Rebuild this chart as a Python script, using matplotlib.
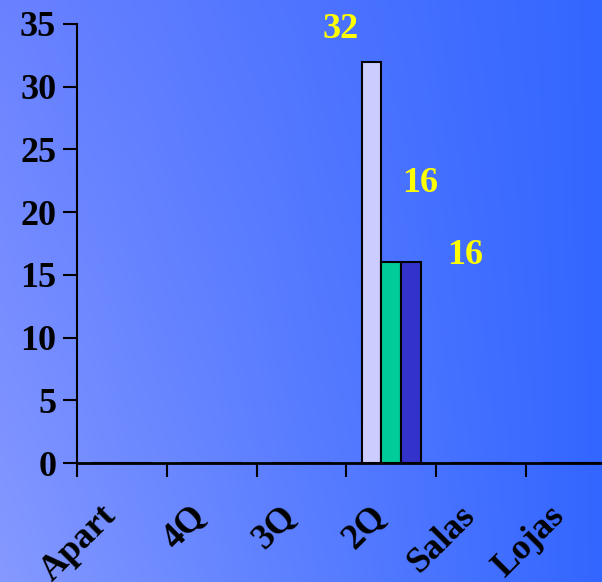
import numpy as np
import matplotlib
matplotlib.use('Agg')
import matplotlib.pyplot as plt
from matplotlib.colors import to_rgb

# data
categories = ['Apart', '4Q', '3Q', '2Q', 'Salas', 'Lojas']
series_a = [0, 0, 0, 32, 0, 0]
series_b = [0, 0, 0, 16, 0, 0]
series_c = [0, 0, 0, 16, 0, 0]
y_ticks = [0, 5, 10, 15, 20, 25, 30, 35]

bar_colors = ['#CCCCFF', '#00CC99', '#3333CC']
# label offsets (points) from the bar tops, as in the original
label_offsets = [(-22, 23), (21, 57), (39, 5)]

W, H = 602, 582
fig = plt.figure(figsize=(W / 100, H / 100), dpi=100)

# gradient background
bg = fig.add_axes([0, 0, 1, 1], zorder=-1)
bg.axis('off')
nx, ny = 200, 200
tx = np.linspace(0, 1, nx)[None, :, None]
ty = np.linspace(0, 1, ny)[:, None, None]  # 0 top, 1 bottom
left_top = np.array(to_rgb('#6A82FF'))
left_bot = np.array(to_rgb('#8599FF'))
right = np.array(to_rgb('#3366FF'))
left = left_top + (left_bot - left_top) * ty
img = left + (right - left) * tx
bg.imshow(img, aspect='auto', extent=[0, 1, 0, 1])

font = {'family': ['Liberation Serif', 'DejaVu Serif'], 'weight': 'bold'}

ax = fig.add_axes([77 / W, 119 / H, (W - 77) / W, 439 / H])
ax.patch.set_alpha(0)

x = np.arange(len(categories))
bw = 0.22
allbars = []
for i, (vals, c) in enumerate(zip([series_a, series_b, series_c], bar_colors)):
    bars = ax.bar(x + (i - 1) * bw, vals, bw, color=c, edgecolor='black',
                  linewidth=1.5, zorder=3)
    allbars.append(bars)

for bars, vals, off in zip(allbars, [series_a, series_b, series_c], label_offsets):
    for b, v in zip(bars, vals):
        if v:
            ax.annotate(str(v), (b.get_x() + b.get_width() / 2, v),
                        xytext=off, textcoords='offset points',
                        ha='center', va='center', color='#FFFF00',
                        fontsize=26, **font)

ax.set_xlim(-0.5, -0.5 + (W - 77) / 89.8)
ax.set_ylim(0, 35)
ax.set_yticks(y_ticks)
ax.set_yticklabels([str(t) for t in y_ticks], fontsize=26, **font)
ax.tick_params(axis='y', length=10, width=1.5, direction='out', pad=5)

# labels sit a bit left of the category centre in the original
ax.set_xticks(x - 0.25)
ax.set_xticklabels(categories, rotation=45, ha='right', va='top',
                   rotation_mode='anchor', fontsize=26, **font)
ax.set_xticks(np.arange(len(categories)) - 0.5, minor=True)
ax.tick_params(axis='x', which='major', length=0, pad=26)
ax.tick_params(axis='x', which='minor', length=10, width=1.5, direction='out')

for s in ['top', 'right']:
    ax.spines[s].set_visible(False)
ax.spines['left'].set_linewidth(1.5)
ax.spines['bottom'].set_linewidth(2)

fig.savefig('out.png', dpi=100)
